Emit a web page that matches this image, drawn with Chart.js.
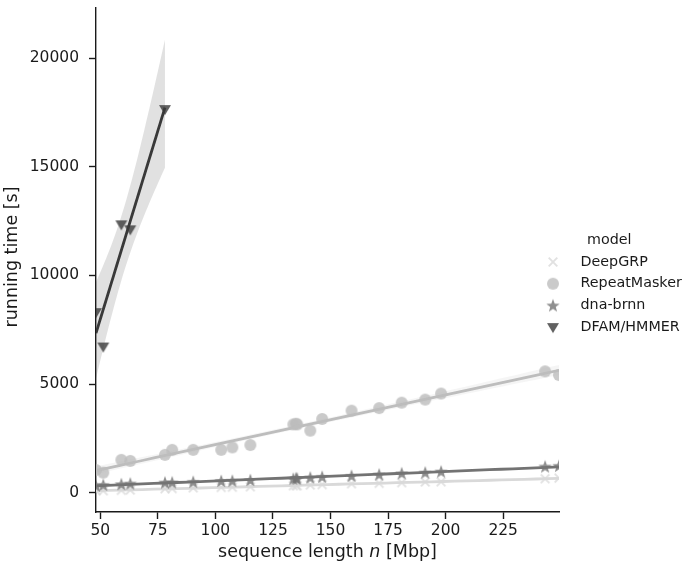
<!DOCTYPE html>
<html>
<head>
<meta charset="utf-8">
<script src="https://cdn.jsdelivr.net/npm/chart.js@4.4.1/dist/chart.umd.min.js"></script>
<style>
  html, body { margin: 0; padding: 0; background: #fff; }
  #wrap { width: 685px; height: 571px; }
</style>
</head>
<body>
<div id="wrap"><canvas id="myChart"></canvas></div>
<script>
// chromosome lengths (Mbp)
const lengths = [48.13, 51.30, 59.13, 63.03, 78.08, 81.20, 90.35, 102.53, 107.35, 115.17,
    133.85, 135.01, 135.53, 141.21, 146.36, 159.14, 171.12, 180.92, 191.15, 198.02, 243.20, 249.25];

// running times (s)
const deepGRP = [110, 100, 120, 130, 190, 200, 230, 250, 260, 280,
    330, 340, 330, 360, 380, 420, 440, 470, 500, 510, 650, 680];
const repeatMasker = [1050, 930, 1520, 1470, 1750, 1980, 1980, 1980, 2090, 2200,
    3150, 3180, 3150, 2860, 3400, 3780, 3900, 4150, 4290, 4570, 5590, 5420];
const dnaBrnn = [330, 370, 400, 430, 475, 480, 510, 550, 560, 590,
    650, 670, 660, 705, 740, 785, 845, 900, 935, 980, 1210, 1245];
const dfamLengths = [48.13, 51.30, 59.13, 63.03, 78.08];
const dfamHmmer = [8310, 6730, 12350, 12120, 17650];

const models = ['DeepGRP', 'RepeatMasker', 'dna-brnn', 'DFAM/HMMER'];
const xTicks = [50, 75, 100, 125, 150, 175, 200, 225];
const yTicks = [0, 5000, 10000, 15000, 20000];

const textColor = '#1a1a1a';
const baseColors = ['#d9d9d9', '#bdbdbd', '#737373', '#393939'];

function rgba(hex, a) {
    const n = parseInt(hex.slice(1), 16);
    return 'rgba(' + (n >> 16) + ',' + ((n >> 8) & 255) + ',' + (n & 255) + ',' + a + ')';
}

// marker images
function makeMarker(kind, color) {
    const s = 16;
    const c = document.createElement('canvas');
    c.width = s; c.height = s;
    const g = c.getContext('2d');
    g.fillStyle = color;
    g.strokeStyle = color;
    const m = s / 2;
    if (kind === 'x') {
        g.lineWidth = 1.9;
        g.beginPath();
        g.moveTo(m - 4.3, m - 4.3); g.lineTo(m + 4.3, m + 4.3);
        g.moveTo(m + 4.3, m - 4.3); g.lineTo(m - 4.3, m + 4.3);
        g.stroke();
    } else if (kind === 'o') {
        g.beginPath();
        g.arc(m, m, 6, 0, Math.PI * 2);
        g.fill();
    } else if (kind === 'star') {
        g.beginPath();
        for (let i = 0; i < 10; i++) {
            const r = i % 2 === 0 ? 7 : 2.9;
            const a = -Math.PI / 2 + i * Math.PI / 5;
            const px = m + r * Math.cos(a), py = m + 0.6 + r * Math.sin(a);
            if (i === 0) g.moveTo(px, py); else g.lineTo(px, py);
        }
        g.closePath();
        g.fill();
    } else {
        g.beginPath();
        g.moveTo(m - 6, m - 4);
        g.lineTo(m + 6, m - 4);
        g.lineTo(m, m + 6);
        g.closePath();
        g.fill();
    }
    return c;
}
const markerKinds = ['x', 'o', 'star', 'v'];
const markers = markerKinds.map((k, i) => makeMarker(k, rgba(baseColors[i], 0.8)));

// least squares fit with confidence band
function fit(xs, ys) {
    const n = xs.length;
    const mx = xs.reduce((a, b) => a + b, 0) / n;
    const my = ys.reduce((a, b) => a + b, 0) / n;
    let sxx = 0, sxy = 0;
    for (let i = 0; i < n; i++) { sxx += (xs[i] - mx) ** 2; sxy += (xs[i] - mx) * (ys[i] - my); }
    const b = sxy / sxx, a = my - b * mx;
    let sse = 0;
    for (let i = 0; i < n; i++) sse += (ys[i] - a - b * xs[i]) ** 2;
    const s = Math.sqrt(sse / (n - 2));
    const lo = Math.min(...xs), hi = Math.max(...xs);
    const line = [], upper = [], lower = [];
    for (let k = 0; k <= 40; k++) {
        const x = lo + (hi - lo) * k / 40;
        const y = a + b * x;
        const se = s * Math.sqrt(1 / n + (x - mx) ** 2 / sxx);
        line.push({ x: x, y: y });
        upper.push({ x: x, y: y + 2.6 * se });
        lower.push({ x: x, y: y - 2.3 * se });
    }
    return { line, upper, lower };
}

const series = [
    [lengths, deepGRP],
    [lengths, repeatMasker],
    [lengths, dnaBrnn],
    [dfamLengths, dfamHmmer]
];

const datasets = [];
series.forEach((sr, i) => {
    const f = fit(sr[0], sr[1]);
    const base = (3 - i) * 10;
    datasets.push({
        label: models[i],
        data: sr[0].map((x, j) => ({ x: x, y: sr[1][j] })),
        pointStyle: markers[i],
        pointRadius: 7,
        clip: 0,
        order: base + 3
    });
    datasets.push({
        data: f.lower, showLine: true, pointRadius: 0, borderWidth: 0,
        borderColor: 'rgba(0,0,0,0)', order: base + 2
    });
    datasets.push({
        data: f.upper, showLine: true, pointRadius: 0, borderWidth: 0,
        borderColor: 'rgba(0,0,0,0)', fill: '-1',
        backgroundColor: rgba(baseColors[i], 0.15), order: base + 1
    });
    datasets.push({
        data: f.line, showLine: true, pointRadius: 0, borderWidth: 2.8,
        borderColor: baseColors[i], clip: 0, order: base
    });
});

// axis titles and legend
const extras = {
    id: 'extras',
    afterDraw(chart) {
        const ctx = chart.ctx;
        const area = chart.chartArea;
        ctx.save();
        ctx.fillStyle = textColor;
        ctx.textBaseline = 'middle';
        // x title with italic n
        const f1 = '17.5px "DejaVu Sans"', f2 = 'italic 17.5px "DejaVu Sans"';
        const p1 = 'sequence length ', p2 = 'n', p3 = ' [Mbp]';
        ctx.font = f1;
        const w1 = ctx.measureText(p1).width, w3 = ctx.measureText(p3).width;
        ctx.font = f2;
        const w2 = ctx.measureText(p2).width;
        let x = (area.left + area.right) / 2 - (w1 + w2 + w3) / 2;
        const ty = 552;
        ctx.textAlign = 'left';
        ctx.font = f1; ctx.fillText(p1, x, ty); x += w1;
        ctx.font = f2; ctx.fillText(p2, x, ty); x += w2;
        ctx.font = f1; ctx.fillText(p3, x, ty);
        // y title
        ctx.save();
        ctx.translate(12, 257);
        ctx.rotate(-Math.PI / 2);
        ctx.textAlign = 'center';
        ctx.fillText('running time [s]', 0, 0);
        ctx.restore();
        // legend
        ctx.font = '14.3px "DejaVu Sans"';
        ctx.textAlign = 'left';
        ctx.fillText('model', 587, 240);
        models.forEach((m, i) => {
            const ly = 262 + i * 21.7;
            ctx.drawImage(markers[i], 553 - 8, ly - 8);
            ctx.fillText(m, 580.5, ly);
        });
        ctx.restore();
    }
};

const ctx = document.getElementById('myChart').getContext('2d');
const myChart = new Chart(ctx, {
    type: 'scatter',
    data: { datasets: datasets },
    options: {
        responsive: true,
        maintainAspectRatio: false,
        animation: false,
        layout: { padding: { top: 2, right: 126, left: 0, bottom: 0 } },
        plugins: {
            legend: { display: false },
            tooltip: { enabled: false }
        },
        scales: {
            x: {
                type: 'linear',
                min: 48.13,
                max: 249.25,
                afterBuildTicks: (s) => { s.ticks = xTicks.map(v => ({ value: v })); },
                afterFit: (s) => { s.height = 59; s.paddingLeft = 0; s.paddingRight = 0; },
                grid: { drawOnChartArea: false, drawTicks: true, tickLength: 7, tickWidth: 1.4, color: textColor },
                border: { color: textColor, width: 1.4 },
                ticks: { color: textColor, font: { family: 'DejaVu Sans', size: 15.5 }, padding: 3, maxRotation: 0 }
            },
            y: {
                type: 'linear',
                min: -880,
                max: 22300,
                afterBuildTicks: (s) => { s.ticks = yTicks.map(v => ({ value: v })); },
                afterFit: (s) => { s.width = 96; s.paddingTop = 0; s.paddingBottom = 0; },
                grid: { drawOnChartArea: false, drawTicks: true, tickLength: 7, tickWidth: 1.4, color: textColor },
                border: { color: textColor, width: 1.4 },
                ticks: {
                    color: textColor, font: { family: 'DejaVu Sans', size: 15.5 }, padding: 10,
                    callback: (v) => String(v)
                }
            }
        }
    },
    plugins: [extras]
});
</script>
</body>
</html>
